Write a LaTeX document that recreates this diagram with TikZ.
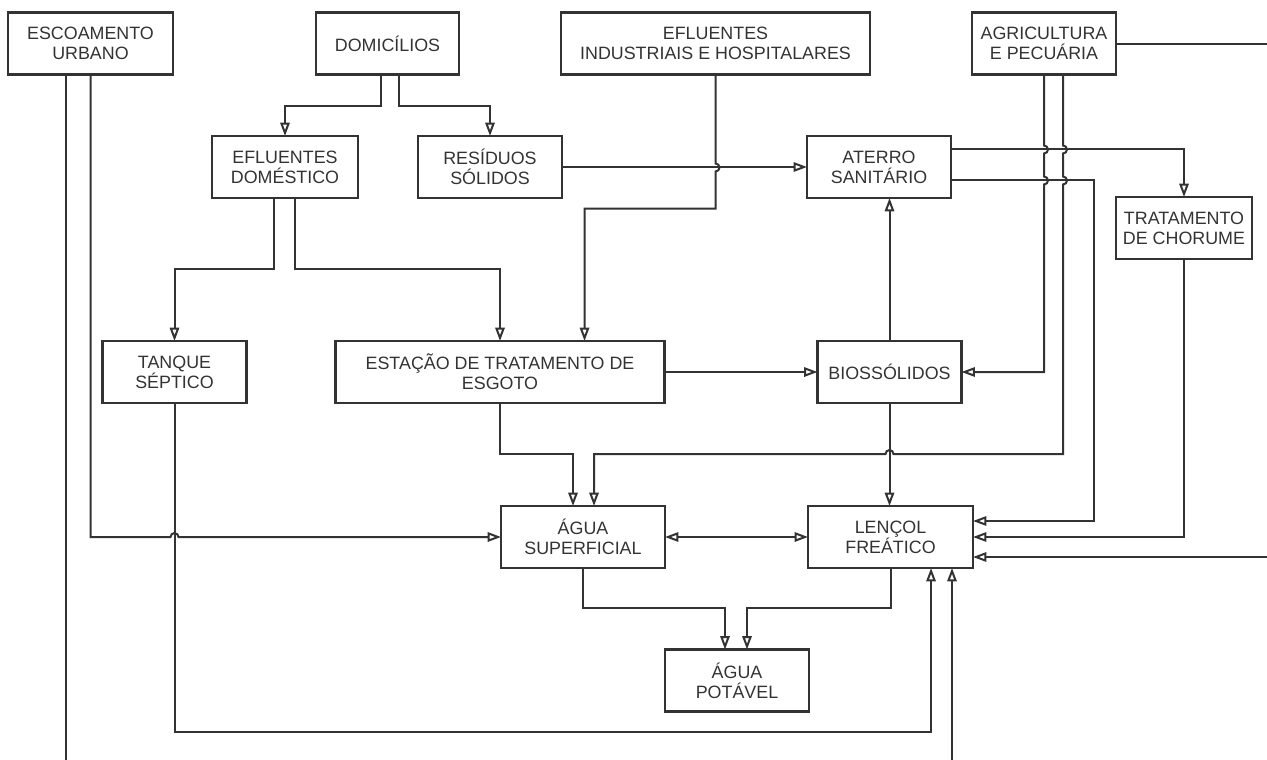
\documentclass[tikz,border=0pt]{standalone}
\usepackage{fontspec}
\setmainfont{Liberation Sans}
\usepackage{tikz}
\usetikzlibrary{positioning,arrows.meta}
\tikzstyle{box} = [draw, rectangle, line width=1.6pt, outer sep=0pt, inner sep=2pt, align=center, minimum height=46.5pt, minimum width=108pt, font=\fontsize{13.4}{15.2}\selectfont]

\begin{document}
\begin{tikzpicture}[x=0.75pt, y=-0.75pt, color=black!80, line width=1.5pt, >={Triangle[open, length=10pt, width=7pt]}]
		\useasboundingbox (0,0) rectangle (1267,760);
		\node [box, minimum width=123.75pt] (esc1) at (90.5,43.5) {ESCOAMENTO\\URBANO};
		\node [box, minimum width=107.25pt, right=107.25pt of esc1] (dom1) {DOMICÍLIOS};
		\node [box, minimum width=231.75pt, right=76.5pt of dom1] (ind1) {EFLUENTES\\INDUSTRIAIS E HOSPITALARES};
		\node [box, right=76.5pt of ind1] (agr1) {AGRICULTURA\\E PECUÁRIA};
		\node [box, minimum width=109.5pt] (efd1) at (285,167) {EFLUENTES\\DOMÉSTICO};
		\node [box, right=45pt of efd1] (res1) {RESÍDUOS\\SÓLIDOS};
		\node [box, right=183.75pt of res1] (ate1) {ATERRO\\SANITÁRIO};
		\node [box, minimum width=102pt] (cho1) at (1184,228) {TRATAMENTO\\DE CHORUME};
		\node [box] (tan1) at (174.5,372) {TANQUE\\SÉPTICO};
		\node [box, minimum width=246.75pt, right=66.75pt of tan1] (ete1) {ESTAÇÃO DE TRATAMENTO DE\\ESGOTO};
		\node [box, right=114.75pt of ete1] (bio1) {BIOSSÓLIDOS};
		\node [box, minimum width=123pt] (sup1) at (583,537) {ÁGUA\\SUPERFICIAL};
		\node [box, minimum width=123.75pt, right=107.25pt of sup1] (len1) {LENÇOL\\FREÁTICO};
		\node [box] (pot1) at (737,680.5) {ÁGUA\\POTÁVEL};
		\coordinate (edge1) at (66.1,760);
		\coordinate (edge2) at (952,760);
		\coordinate (edge3) at (1267,43.5);
		\coordinate (edge4) at (1267,557);
		
		\draw [->] ([xshift=-5pt]dom1.south) -- ++(0,31) -| (efd1);
		\draw [->] ([xshift=8.6pt]dom1.south) -- ++(0,31) -| (res1);
		\draw [->] ([xshift=-8.25pt]efd1.south) -- ++(0,71) -| (tan1);
		\draw [->] ([xshift=7.5pt]efd1.south) -- ++(0,71) -| (ete1);
		\draw [->] (res1) -- (ate1);
		\draw [->] (ind1.south) -- ++(0,89) arc [start angle=90, end angle=-90, radius=3pt] -- ++(0,37) -| ([xshift=63.4pt]ete1.north);
		\draw [->] ([yshift=13.5pt]ate1.east) -| (cho1);
		\draw [->] ([yshift=-9.75pt]ate1.east) -- ++(143,0) |- ([yshift=12pt]len1.east);
		\draw [->] (agr1.south) -- ++(0,71) arc [start angle=90, end angle=-90, radius=3pt] -- ++(0,23) arc [start angle=90, end angle=-90, radius=3pt] |- (bio1);
		\draw [->] ([xshift=14.25pt]agr1.south) -- ++(0,71) arc [start angle=90, end angle=-90, radius=3pt] -- ++(0,23) arc [start angle=90, end angle=-90, radius=3pt] -- ++(0,269.5) -- ++(-169.5,0) arc [start angle=0, end angle=180, radius=3pt] -| ([xshift=8.25pt]sup1.north);
		\draw [->] (bio1.north) -- (bio1.north |- ate1.south);
		\draw [->] (ete1) -- (bio1);
		\draw [->] (ete1.south) -- ++(0,51) -| ([xshift=-7.5pt]sup1.north);
		\draw [->] (bio1.south) -- (bio1.south |- len1.north);
		\draw [<->] (sup1) -- (len1);
		\draw [->] (esc1.south) -- ++(0,462.5) -- ++(80,0) arc [start angle=180, end angle=0, radius=3pt] -- (sup1.west);
		\draw (esc1.south -| edge1) -- (edge1);
		\draw [->] (tan1.south) -- ++(0,329) -| ([xshift=30.4pt]len1.south);
		\draw [->] (edge2) -- (edge2 |- len1.south);
		\draw [->] (cho1.south) |- (len1);
		\draw (agr1) -- (edge3);
		\draw [->] (edge4) -- (edge4 -| len1.east);
		\draw [->] (sup1.south) -- ++(0,40) -| ([xshift=-9pt]pot1.north);
		\draw [->] (len1.south) -- ++(0,40) -| ([xshift=7.5pt]pot1.north);
	\end{tikzpicture}
\end{document}
